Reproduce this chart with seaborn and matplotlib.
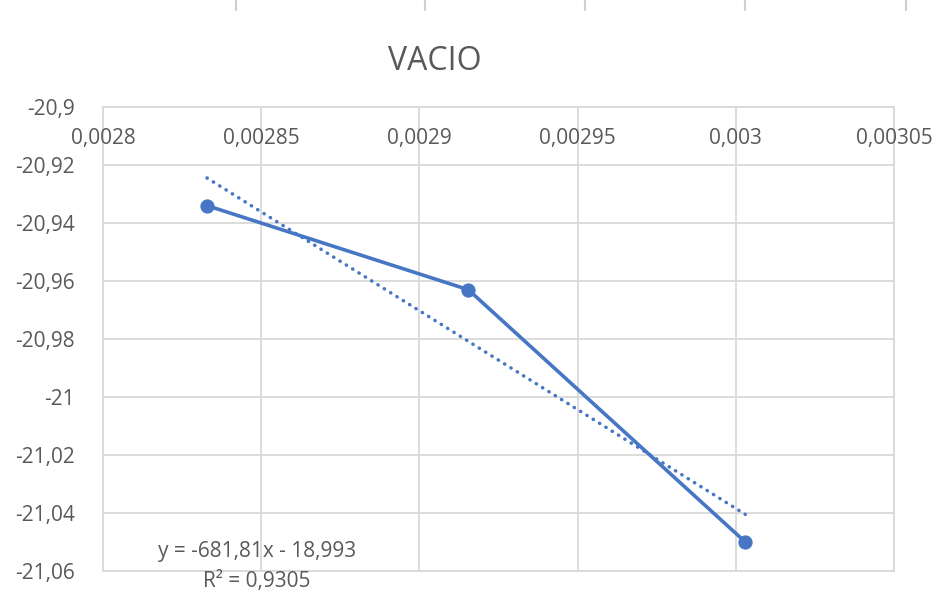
import numpy as np
import pandas as pd
import matplotlib
matplotlib.use("Agg")
import matplotlib.pyplot as plt
from matplotlib.lines import Line2D
import seaborn as sns

# Inverse temperature (1/K) and measured ln values
inv_temp = [1 / 353, 1 / 343, 1 / 333]
ln_values = [-20.934, -20.963, -21.050]

# Linear trendline coefficients and fit quality
slope = -681.81
intercept = -18.993
r_squared = 0.9305

x_ticks = [0.0028, 0.00285, 0.0029, 0.00295, 0.003, 0.00305]
x_tick_labels = ["0,0028", "0,00285", "0,0029", "0,00295", "0,003", "0,00305"]
y_ticks = [-20.9, -20.92, -20.94, -20.96, -20.98, -21.0, -21.02, -21.04, -21.06]
y_tick_labels = ["-20,9", "-20,92", "-20,94", "-20,96", "-20,98", "-21", "-21,02", "-21,04", "-21,06"]

title = "VACIO"

sns.set_theme(style="white")
plt.rcParams["font.family"] = ["Open Sans", "DejaVu Sans"]

blue = "#4676C4"
grid_c = "#d9d9d9"
text_c = "#595959"

fig = plt.figure(figsize=(9.49, 5.98), dpi=100)
ax = fig.add_axes([103 / 949, 1 - 571 / 598, (894 - 103) / 949, (571 - 107) / 598])

df = pd.DataFrame({"x": inv_temp, "y": ln_values})
sns.lineplot(data=df, x="x", y="y", sort=False, ax=ax, color=blue, linewidth=2.6,
             marker="o", markersize=9.5, markeredgecolor=blue, zorder=4)

# Trendline over the data range
tx = np.array([min(inv_temp), max(inv_temp)])
trend = pd.DataFrame({"x": tx, "y": slope * tx + intercept})
sns.lineplot(data=trend, x="x", y="y", ax=ax, color=blue, linewidth=2.5,
             linestyle=(0, (0.1, 2.05)), dash_capstyle="round", zorder=3)

ax.set_xlim(0.0028, 0.00305)
ax.set_ylim(-21.06, -20.9)
ax.set_xticks(x_ticks)
ax.set_yticks(y_ticks)
ax.grid(True, color=grid_c, linewidth=1.3)
ax.set_axisbelow(True)
for s in ax.spines.values():
    s.set_color(grid_c)
    s.set_linewidth(1.3)

ax.set_xlabel("")
ax.set_ylabel("")
ax.tick_params(axis="x", bottom=False, top=False, labelbottom=False, labeltop=False)
ax.set_yticklabels(y_tick_labels)
ax.tick_params(axis="y", left=False, labelsize=15, labelcolor=text_c, pad=14.5)

# Horizontal axis labels sit just under the top edge, where the axis crosses
for xv, lab in zip(x_ticks, x_tick_labels):
    ax.text(xv, -20.9107, lab, ha="center", va="center", fontsize=15, color=text_c,
            zorder=5)

fig.text(435 / 949, 1 - 62 / 598, title, ha="center", va="center", fontsize=23, color=text_c)

eq = f"y = {slope:.2f}x - {abs(intercept):.3f}".replace(".", ",")
r2 = f"R² = {r_squared:.4f}".replace(".", ",")
fig.text(257 / 949, 1 - 552 / 598, eq, ha="center", va="center", fontsize=15, color=text_c)
fig.text(257 / 949, 1 - 582 / 598, r2, ha="center", va="center", fontsize=15, color=text_c)

# Short grey rules along the top edge
for px in [236, 425, 585, 745, 906]:
    fig.add_artist(Line2D([px / 949, px / 949], [1.0, 1 - 10 / 598], color="#cfcfcf",
                          linewidth=1.5, transform=fig.transFigure))

fig.savefig("out.png", dpi=100, facecolor="white")
